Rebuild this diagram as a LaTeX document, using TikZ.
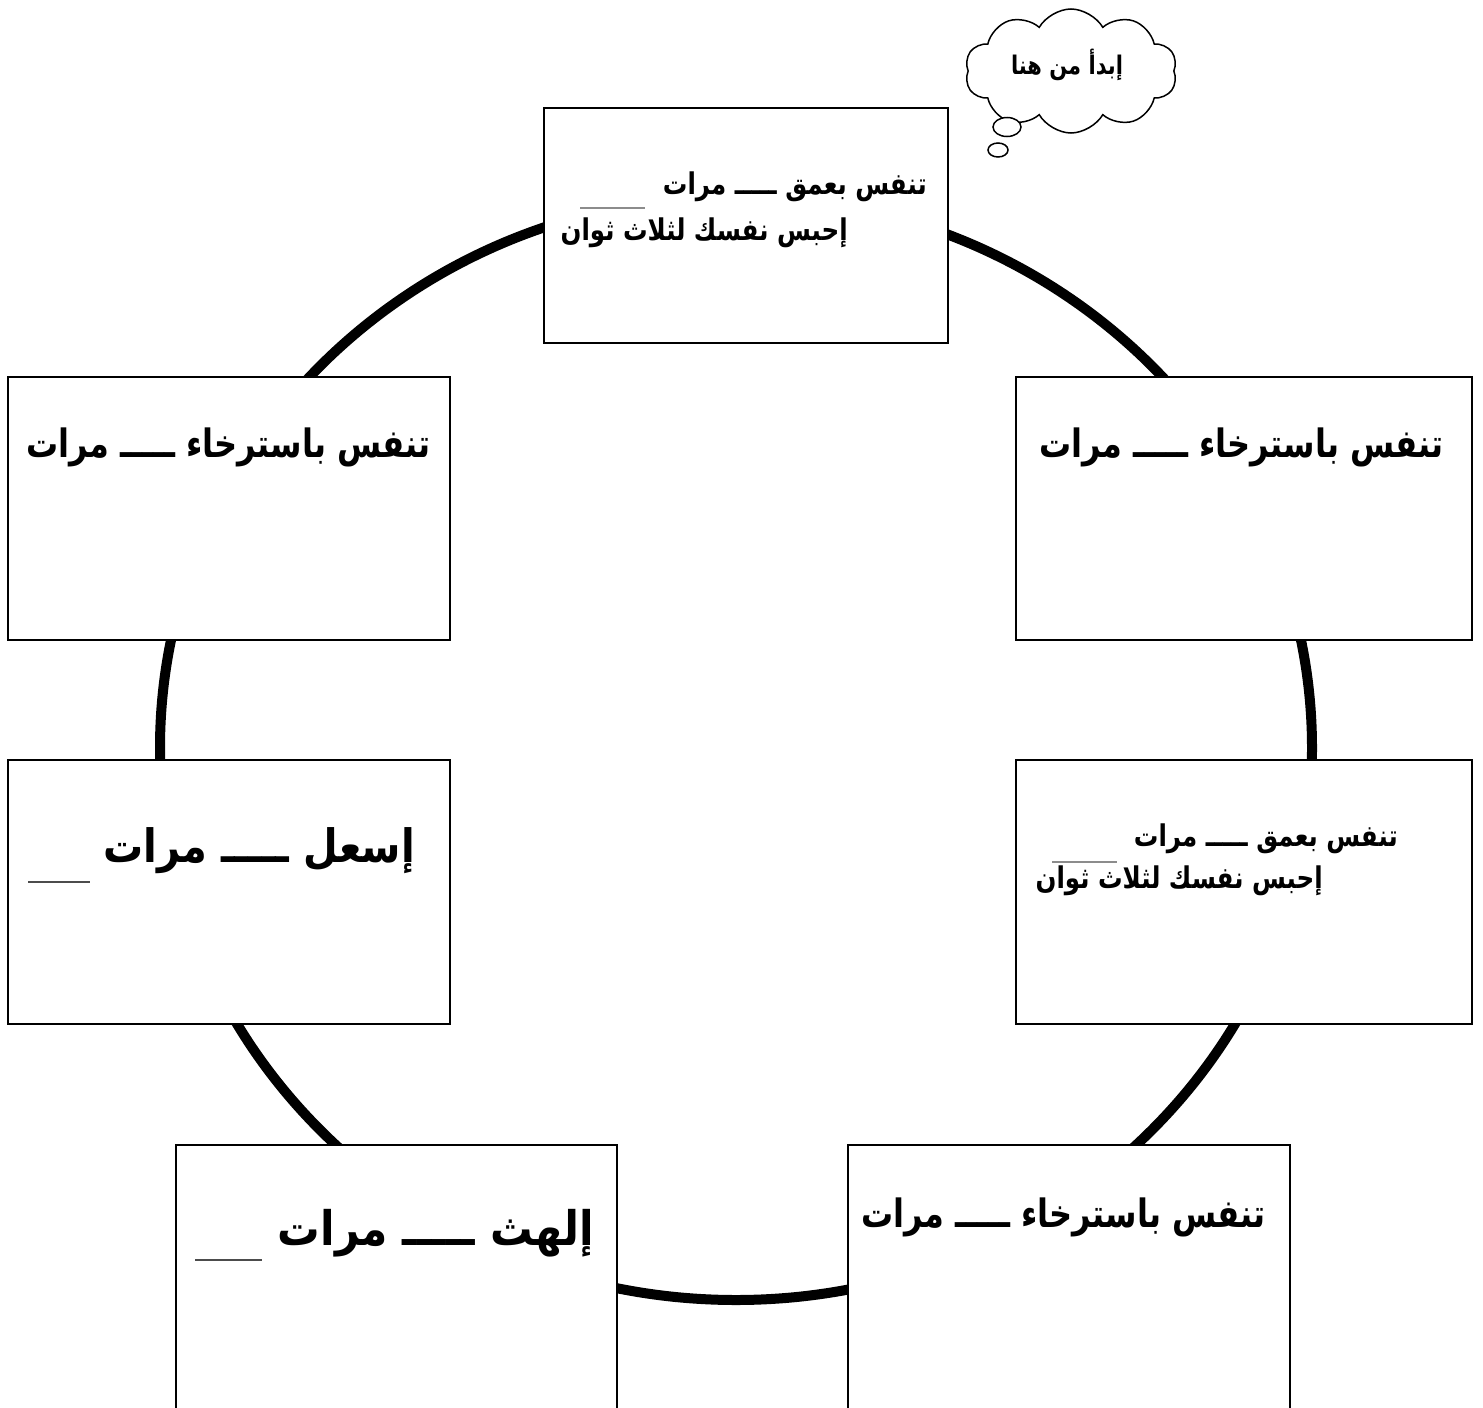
\documentclass[tikz,border=0pt]{standalone}
\usepackage{fontspec}
\usepackage{graphicx}
\usetikzlibrary{shapes.symbols}
\TeXXeTstate=1
\newfontfamily\arabicfont[Script=Arabic]{DejaVu Sans}
\newcommand{\artext}[2][1.22]{\scalebox{1}[#1]{\beginR #2\endR}}
\begin{document}
\begin{tikzpicture}[x=1pt,y=-1pt,
  box/.style={draw=black, line width=1.5pt, fill=white, inner sep=0pt},
  ring/.style={line width=10pt},
  txt/.style={anchor=base east, inner sep=0pt, font=\arabicfont\bfseries},
  small/.style={txt, font=\arabicfont\bfseries\fontsize{24.5}{28}\selectfont},
  mid/.style={txt, font=\arabicfont\bfseries\fontsize{32}{36}\selectfont},
  big/.style={txt, font=\arabicfont\bfseries\fontsize{40}{44}\selectfont},
  bigger/.style={txt, font=\arabicfont\bfseries\fontsize{42.5}{46}\selectfont},
  blank/.style={line width=1.2pt, black!45},
  blankbig/.style={line width=2pt, black!70}]
\useasboundingbox (0,0) rectangle (1483,1408);
\fill[white] (0,0) rectangle (1483,1408);
% ring
\draw[ring] (736,748) ellipse [x radius=576, y radius=552];
% boxes
\node[box, minimum width=404, minimum height=235] (top) at (746,225.5) {};
\node[box, minimum width=442, minimum height=263] (ul) at (229,508.5) {};
\node[box, minimum width=456, minimum height=263] (ur) at (1244,508.5) {};
\node[box, minimum width=442, minimum height=264] (ml) at (229,892) {};
\node[box, minimum width=456, minimum height=264] (mr) at (1244,892) {};
\node[box, minimum width=441, minimum height=280] (bl) at (396.5,1285) {};
\node[box, minimum width=442, minimum height=280] (br) at (1069,1285) {};
% top box text
\node[small] (t1) at (927,194) {\artext{تنفس بعمق ـــــ مرات}};
\node[small] (t2) at (848,240) {\artext{إحبس نفسك لثلاث ثوان}};
\draw[blank] (580,208) -- (645,208);
% upper boxes
\node[mid] (ult) at (431,457) {\artext{تنفس باسترخاء ـــــ مرات}};
\node[mid] (urt) at (1444,457) {\artext{تنفس باسترخاء ـــــ مرات}};
% middle right
\node[small] (m1) at (1398,846) {\artext{تنفس بعمق ـــــ مرات}};
\node[small] (m2) at (1323,888) {\artext{إحبس نفسك لثلاث ثوان}};
\draw[blank] (1052,862) -- (1117,862);
% middle left
\node[big] (mlt) at (415,862) {\artext[1.15]{إسعل ـــــ مرات}};
\draw[blankbig] (28,882) -- (90,882);
% bottom boxes
\node[bigger] (blt) at (594,1245) {\artext[1.12]{إلهث ـــــ مرات}};
\draw[blankbig] (195,1260) -- (262,1260);
\node[mid] (brt) at (1266,1227) {\artext{تنفس باسترخاء ـــــ مرات}};
% thought cloud
\node[cloud, draw=black, line width=1.5pt, fill=white, cloud puffs=10, cloud puff arc=120, aspect=1.68, minimum width=212, minimum height=124, inner sep=0pt] (cloud) at (1071,71) {};
\node[anchor=center, inner sep=0pt, font=\arabicfont\bfseries\fontsize{21}{24}\selectfont] (ct) at (1067,65) {\artext{إبدأ من هنا}};
\draw[line width=1.5pt, fill=white] (1007,127) ellipse [x radius=14, y radius=9.5];
\draw[line width=1.5pt, fill=white] (998,150) ellipse [x radius=10, y radius=7];
\end{tikzpicture}
\end{document}
